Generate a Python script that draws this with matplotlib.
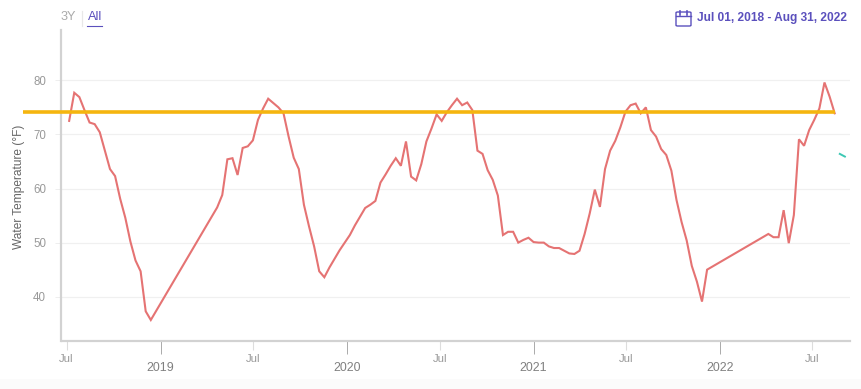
import numpy as np
import pandas as pd
import matplotlib
matplotlib.use("Agg")
from matplotlib import pyplot as plt
from matplotlib.patches import FancyBboxPatch, Rectangle
from matplotlib.lines import Line2D
import matplotlib.dates as mdates

plt.rcParams['font.family'] = ['Liberation Sans', 'DejaVu Sans']

# readings, one every 10 days with two gaps
dates_2018 = ["2018-07-06", "2018-07-16", "2018-07-26", "2018-08-05", "2018-08-15", "2018-08-25",
              "2018-09-04", "2018-09-14", "2018-09-24", "2018-10-04", "2018-10-14", "2018-10-24",
              "2018-11-03", "2018-11-13", "2018-11-23", "2018-12-03", "2018-12-13"]
temps_2018 = [72.5, 77.7, 76.9, 74.5, 72.2, 71.9, 70.4, 67.0, 63.6, 62.3, 58.1, 54.6, 50.2, 46.7, 44.7, 37.3, 35.7]

dates_2019 = ["2019-04-22", "2019-05-02", "2019-05-12", "2019-05-22", "2019-06-01", "2019-06-11",
              "2019-06-21", "2019-07-01", "2019-07-11", "2019-07-21", "2019-07-31", "2019-08-10",
              "2019-08-20", "2019-08-30", "2019-09-09", "2019-09-19", "2019-09-29", "2019-10-09",
              "2019-10-19", "2019-10-29", "2019-11-08", "2019-11-18", "2019-11-28", "2019-12-08",
              "2019-12-18", "2019-12-28"]
temps_2019 = [56.5, 58.8, 65.4, 65.6, 62.5, 67.5, 67.8, 68.9, 72.7, 74.8, 76.6, 75.8, 75.0, 73.9, 69.6, 65.7,
              63.6, 57.0, 53.0, 49.3, 44.7, 43.6, 45.4, 47.0, 48.6, 50.0]

dates_2020 = ["2020-01-07", "2020-01-17", "2020-01-27", "2020-02-06", "2020-02-16", "2020-02-26",
              "2020-03-07", "2020-03-17", "2020-03-27", "2020-04-06", "2020-04-16", "2020-04-26",
              "2020-05-06", "2020-05-16", "2020-05-26", "2020-06-05", "2020-06-15", "2020-06-25",
              "2020-07-05", "2020-07-15", "2020-07-25", "2020-08-04", "2020-08-14", "2020-08-24",
              "2020-09-03", "2020-09-13", "2020-09-23", "2020-10-03", "2020-10-13", "2020-10-23",
              "2020-11-02", "2020-11-12", "2020-11-22", "2020-12-02", "2020-12-12", "2020-12-22"]
temps_2020 = [51.4, 53.2, 54.8, 56.4, 57.0, 57.7, 61.1, 62.6, 64.2, 65.6, 64.2, 68.7, 62.2, 61.5, 64.5, 68.7,
              71.1, 73.7, 72.5, 74.1, 75.4, 76.6, 75.4, 75.9, 74.5, 67.0, 66.4, 63.4, 61.6, 58.7, 51.4, 52.0,
              52.0, 50.0, 50.5, 50.9]

dates_2021 = ["2021-01-01", "2021-01-11", "2021-01-21", "2021-01-31", "2021-02-10", "2021-02-20",
              "2021-03-02", "2021-03-12", "2021-03-22", "2021-04-01", "2021-04-11", "2021-04-21",
              "2021-05-01", "2021-05-11", "2021-05-21", "2021-05-31", "2021-06-10", "2021-06-20",
              "2021-06-30", "2021-07-10", "2021-07-20", "2021-07-30", "2021-08-09", "2021-08-19",
              "2021-08-29", "2021-09-08", "2021-09-18", "2021-09-28", "2021-10-08", "2021-10-18",
              "2021-10-28", "2021-11-07", "2021-11-17", "2021-11-27", "2021-12-07"]
temps_2021 = [50.1, 50.0, 50.0, 49.3, 49.0, 49.0, 48.5, 48.0, 47.9, 48.5, 51.6, 55.4, 59.8, 56.6, 63.6, 67.0,
              68.8, 71.3, 74.2, 75.4, 75.7, 73.9, 75.0, 70.8, 69.6, 67.3, 66.2, 63.3, 57.9, 53.8, 50.4, 45.7,
              42.8, 39.1, 45.0]

dates_2022 = ["2022-04-06", "2022-04-16", "2022-04-26", "2022-05-06", "2022-05-16", "2022-05-26",
              "2022-06-05", "2022-06-15", "2022-06-25", "2022-07-05", "2022-07-15", "2022-07-25",
              "2022-08-04", "2022-08-14"]
temps_2022 = [51.6, 51.0, 51.0, 56.0, 49.9, 55.1, 69.1, 67.9, 70.8, 72.7, 74.8, 79.6, 77.0, 73.9]

teal_dates = ["2022-08-24", "2022-09-03"]
teal_temps = [66.4, 65.9]

threshold_dates = ["2018-04-06", "2022-08-14"]
threshold_temps = [74.2, 74.2]

july_ticks = ["2018-07-01", "2019-07-01", "2020-07-01", "2021-07-01", "2022-07-01"]
july_labels = ["Jul", "Jul", "Jul", "Jul", "Jul"]
year_ticks = ["2019-01-01", "2020-01-01", "2021-01-01", "2022-01-01"]
year_labels = ["2019", "2020", "2021", "2022"]
y_ticks = [40, 50, 60, 70, 80]

W, H = 862, 389
PURPLE = "#5b50bd"


def to_num(dates):
    return mdates.date2num(pd.to_datetime(dates))


def fy(y):
    # pixels from the top to figure fraction
    return 1 - y / H


fig = plt.figure(figsize=(W / 100, H / 100), dpi=100)
fig.patch.set_facecolor("white")
fig.patches.append(Rectangle((0, 0), 1, 1 - 379 / H, transform=fig.transFigure, facecolor="#fbfbfb", edgecolor="none"))

left, right, top, bottom = 61.5, 850, 30, 340.7
ax = fig.add_axes([left / W, 1 - bottom / H, (right - left) / W, (bottom - top) / H])
ax.set_facecolor("none")

ax.set_xlim(to_num(["2018-06-21"])[0], to_num(["2022-09-13"])[0])
ax.set_ylim(31.87, 89.3)

ax.yaxis.grid(True, color="#f0f0f0", linewidth=0.9)
ax.set_axisbelow(True)

all_dates = dates_2018 + dates_2019 + dates_2020 + dates_2021 + dates_2022
all_temps = temps_2018 + temps_2019 + temps_2020 + temps_2021 + temps_2022
ax.plot(to_num(all_dates), all_temps, color="#e57373", linewidth=1.5, solid_joinstyle="miter", zorder=3)
ax.plot(to_num(teal_dates), teal_temps, color="#3cc8b4", linewidth=1.4, zorder=3)
ax.plot(to_num(threshold_dates), threshold_temps, color="#f5b50f", linewidth=2.6, solid_capstyle="butt",
        clip_on=False, zorder=4)

for side in ["top", "right"]:
    ax.spines[side].set_visible(False)
for side in ["left", "bottom"]:
    ax.spines[side].set_color("#d2d2d2")
    ax.spines[side].set_linewidth(1.6)

ax.set_yticks(y_ticks)
ax.tick_params(axis="y", length=4, width=0.7, color="#eeeeee", labelcolor="#999999", labelsize=8.3, pad=7)
ax.set_ylabel("Water Temperature (°F)", color="#666666", fontsize=8.6)
ax.yaxis.set_label_coords((25 - left) / (right - left), 0.495)

ax.set_xticks(to_num(year_ticks))
ax.set_xticklabels(year_labels)
ax.set_xticks(to_num(july_ticks), minor=True)
ax.set_xticklabels(july_labels, minor=True)
ax.tick_params(axis="x", which="major", length=9, width=0.7, color="#aaaaaa", labelcolor="#808080", labelsize=8.9, pad=6.5)
ax.tick_params(axis="x", which="minor", length=6.5, width=0.8, color="#dddddd", labelcolor="#999999", labelsize=8.2, pad=3)

# range selector
fig.text(61 / W, fy(17), "3Y", color="#aaaaaa", fontsize=9.2, va="center")
fig.add_artist(Line2D([82 / W, 82 / W], [fy(11), fy(26)], color="#e8e8e8", linewidth=0.9))
fig.text(88 / W, fy(17), "All", color=PURPLE, fontsize=9.2, va="center")
fig.add_artist(Line2D([87 / W, 102.5 / W], [fy(26.3), fy(26.3)], color=PURPLE, linewidth=0.8))

# calendar icon and date range
fig.patches.append(FancyBboxPatch((676 / W, fy(26)), 15 / W, 14 / H, boxstyle="round,pad=0,rounding_size=0.002",
                                  transform=fig.transFigure, facecolor="none", edgecolor=PURPLE, linewidth=1.0))
fig.add_artist(Line2D([676 / W, 691 / W], [fy(16), fy(16)], color=PURPLE, linewidth=1.0))
fig.add_artist(Line2D([680.5 / W, 680.5 / W], [fy(11), fy(15)], color=PURPLE, linewidth=1.2))
fig.add_artist(Line2D([687 / W, 687 / W], [fy(11), fy(15)], color=PURPLE, linewidth=1.2))
fig.text(847 / W, fy(18.5), "Jul 01, 2018 - Aug 31, 2022", color=PURPLE, fontsize=8.6, fontweight="bold",
         ha="right", va="center")

fig.savefig("out.png", dpi=100)
